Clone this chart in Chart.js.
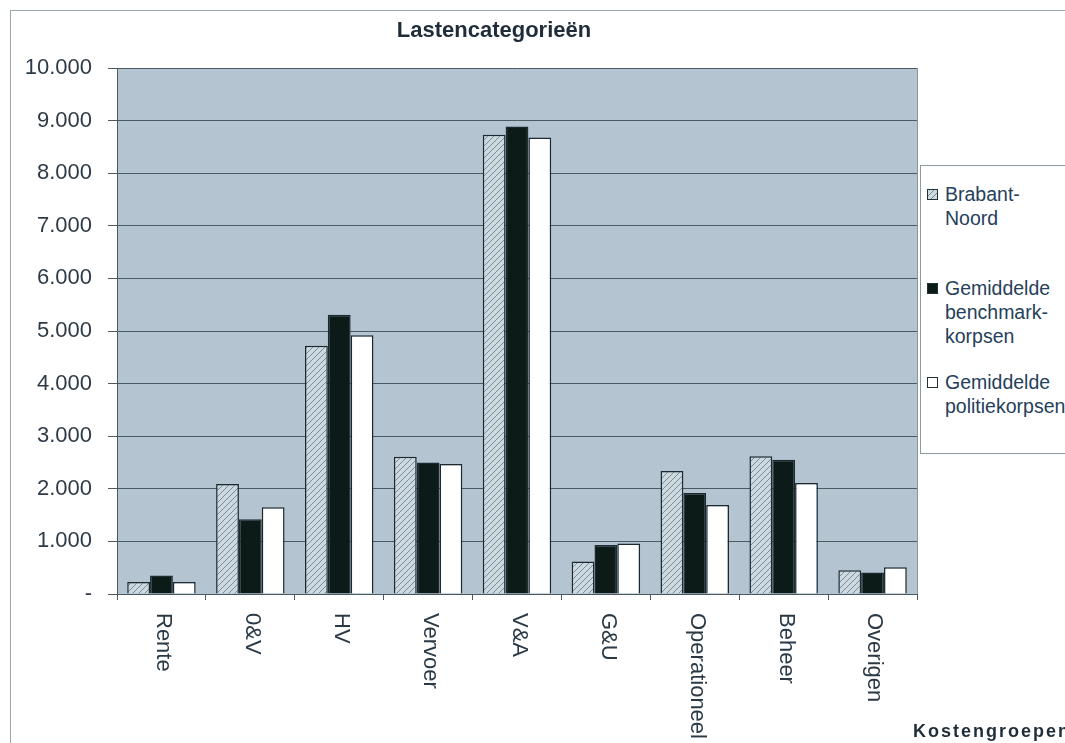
<!DOCTYPE html>
<html>
<head>
<meta charset="utf-8">
<script src="https://cdn.jsdelivr.net/npm/chart.js@4.4.0/dist/chart.umd.min.js"></script>
<style>
    html, body { margin: 0; padding: 0; background: #fff; overflow: hidden; }
    #wrap { position: relative; width: 1065px; height: 743px; overflow: hidden; }
    #frame { position: absolute; left: 10px; top: 10px; width: 1100px; height: 800px;
             border-left: 1px solid #9aa6ae; border-top: 1px solid #9aa6ae; }
    canvas { position: absolute; left: 0; top: 0; }
    #legend { position: absolute; left: 920px; top: 165px; width: 170px; height: 287px;
              border: 1px solid #8c99a2; background: #fff;
              font-family: "Liberation Sans", Arial, sans-serif; font-size: 19.5px; color: #25405a; }
    .item { position: absolute; left: 24px; line-height: 24px; white-space: nowrap; }
    .box { position: absolute; left: -18px; top: 7px; width: 9px; height: 9px; border: 1px solid #223038; }
    #xtitle { position: absolute; left: 913px; top: 721px; white-space: nowrap;
              font: bold 18px "Liberation Sans", Arial, sans-serif; letter-spacing: 2px; color: #1f2d3a; }
</style>
</head>
<body>
<div id="wrap">
    <div id="frame"></div>
    <canvas id="barChart" width="1065" height="743"></canvas>
    <div id="legend">
        <div class="item" style="top:16px"><span class="box" id="hatchBox"></span>Brabant-<br>Noord</div>
        <div class="item" style="top:110px"><span class="box" style="background:#0d1b18"></span>Gemiddelde<br>benchmark-<br>korpsen</div>
        <div class="item" style="top:204px"><span class="box" style="background:#fff"></span>Gemiddelde<br>politiekorpsen</div>
    </div>
    <div id="xtitle">Kostengroepen</div>
</div>
<script>
const categories = ['Rente', '0&V', 'HV', 'Vervoer', 'V&A', 'G&U', 'Operationeel', 'Beheer', 'Overigen'];
const brabantNoord = [230, 2090, 4720, 2610, 8730, 620, 2340, 2620, 450];
const benchmarkKorpsen = [350, 1420, 5310, 2500, 8890, 930, 1920, 2550, 410];
const politieKorpsen = [230, 1650, 4920, 2470, 8680, 960, 1690, 2110, 510];
const seriesNames = ['Brabant-Noord', 'Gemiddelde benchmarkkorpsen', 'Gemiddelde politiekorpsen'];

const font = '"Liberation Sans", Arial, sans-serif';
const lineColor = '#4b5963';

function makeHatch() {
    const c = document.createElement('canvas');
    c.width = 6; c.height = 6;
    const g = c.getContext('2d');
    g.fillStyle = '#cdd9e1';
    g.fillRect(0, 0, 6, 6);
    g.strokeStyle = '#7b8b96';
    g.lineWidth = 1;
    g.beginPath();
    g.moveTo(0, 6); g.lineTo(6, 0);
    g.moveTo(-3, 3); g.lineTo(3, -3);
    g.moveTo(3, 9); g.lineTo(9, 3);
    g.stroke();
    document.getElementById('hatchBox').style.backgroundImage = 'url(' + c.toDataURL() + ')';
    return g.createPattern(c, 'repeat');
}

function fmt(v) {
    if (v === 0) return '-';
    return String(v).replace(/\B(?=(\d{3})+(?!\d))/g, '.');
}

// plot background + right edge
const plotBg = {
    id: 'plotBg',
    beforeDraw(chart) {
        const { ctx, chartArea: a } = chart;
        ctx.save();
        ctx.fillStyle = '#b4c4d0';
        ctx.fillRect(a.left, a.top, a.right - a.left, a.bottom - a.top);
        ctx.strokeStyle = '#8797a2';
        ctx.beginPath();
        ctx.moveTo(a.right + 0.5, a.top);
        ctx.lineTo(a.right + 0.5, a.bottom);
        ctx.stroke();
        ctx.restore();
    }
};

// rotated category labels (read top to bottom) and chart title
const extraText = {
    id: 'extraText',
    afterDraw(chart) {
        const ctx = chart.ctx;
        const x = chart.scales.x;
        ctx.save();
        ctx.font = '22px ' + font;
        ctx.fillStyle = '#2a3945';
        ctx.textAlign = 'left';
        ctx.textBaseline = 'middle';
        categories.forEach((c, i) => {
            ctx.save();
            ctx.translate(x.getPixelForTick(i) + 2, chart.chartArea.bottom + 19);
            ctx.rotate(Math.PI / 2);
            ctx.fillText(c, 0, 0);
            ctx.restore();
        });
        ctx.font = 'bold 22px ' + font;
        ctx.fillStyle = '#1f2d3a';
        ctx.textAlign = 'center';
        ctx.fillText('Lastencategorieën', 494, 31);
        ctx.restore();
    }
};

const hatch = makeHatch();

new Chart(document.getElementById('barChart'), {
    type: 'bar',
    data: {
        labels: categories,
        datasets: [
            { label: seriesNames[0], data: brabantNoord, backgroundColor: hatch },
            { label: seriesNames[1], data: benchmarkKorpsen, backgroundColor: '#0d1b18' },
            { label: seriesNames[2], data: politieKorpsen, backgroundColor: '#ffffff' }
        ].map(d => Object.assign(d, {
            borderColor: '#1c2931',
            borderWidth: 1.5,
            categoryPercentage: 0.77,
            barPercentage: 1.0
        }))
    },
    options: {
        responsive: false,
        animation: false,
        layout: { padding: { top: 68, right: 148, left: 0, bottom: 0 } },
        plugins: {
            legend: { display: false },
            title: { display: false },
            tooltip: { enabled: false }
        },
        scales: {
            x: {
                ticks: { display: false },
                grid: { drawOnChartArea: false, offset: true, tickLength: 6, color: lineColor },
                border: { color: lineColor },
                afterFit: s => { s.height = 149; }
            },
            y: {
                min: 0,
                max: 10000,
                ticks: {
                    stepSize: 1000,
                    padding: 16,
                    color: '#2e3b46',
                    font: { family: font, size: 22 },
                    callback: v => fmt(v)
                },
                grid: { color: lineColor, tickLength: 9 },
                border: { color: lineColor },
                afterFit: s => { s.width = 117; }
            }
        }
    },
    plugins: [plotBg, extraText]
});
</script>
</body>
</html>
